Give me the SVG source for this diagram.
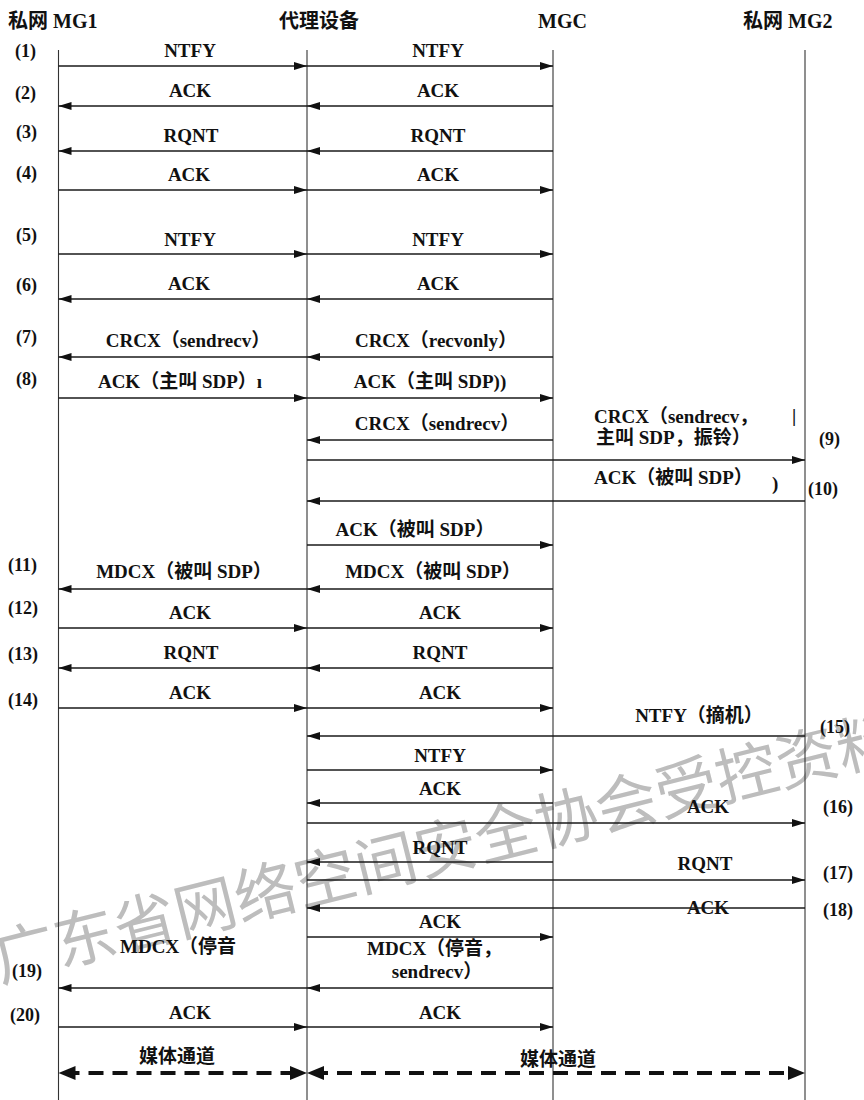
<svg xmlns="http://www.w3.org/2000/svg" width="864" height="1100" viewBox="0 0 864 1100">
<style>
  .t{font-family:'Liberation Serif','Noto Sans CJK SC',serif;font-size:19px;font-weight:bold;fill:#111}
  .c{text-anchor:middle}
  .h{font-size:20px}
  .n{font-size:18px}
  .life{stroke:#333;stroke-width:1.1;fill:none}
  .m{stroke:#1a1a1a;stroke-width:1.4;fill:none;marker-end:url(#ah)}
  .d{stroke:#111;stroke-width:4;stroke-dasharray:15 9;fill:none;marker-start:url(#dh);marker-end:url(#dh)}
  .wm{font-family:'Noto Sans CJK SC',sans-serif;font-size:62px;font-weight:normal;fill:#bdbdbd}
</style>
<defs>
  <marker id="ah" markerUnits="userSpaceOnUse" markerWidth="14" markerHeight="10" refX="13" refY="5" orient="auto">
    <path d="M0,1 L13,5 L0,9 z" fill="#111"/>
  </marker>
  <marker id="dh" markerUnits="userSpaceOnUse" markerWidth="18" markerHeight="14" refX="11" refY="7" orient="auto-start-reverse">
    <path d="M0,0 L17,7 L0,14 z" fill="#111"/>
  </marker>
</defs>
<rect width="864" height="1100" fill="#fff"/>

<text class="wm" transform="translate(0,982) rotate(-14)">广东省网络空间安全协会受控资料</text>

<g id="mg1">
  <text class="t h" x="8" y="28">私网 MG1</text>
  <line class="life" x1="58.5" y1="50" x2="58.5" y2="1100"/>
</g>
<g id="proxy">
  <text class="t h" x="279" y="28">代理设备</text>
  <line class="life" x1="307" y1="50" x2="307" y2="1100"/>
</g>
<g id="mgc">
  <text class="t h" x="538" y="28">MGC</text>
  <line class="life" x1="553" y1="50" x2="553" y2="1100"/>
</g>
<g id="mg2">
  <text class="t h" x="743" y="28">私网 MG2</text>
  <line class="life" x1="805" y1="50" x2="805" y2="1100"/>
</g>

<g id="steps">
  <text class="t n" x="15" y="57">(1)</text>
  <text class="t n" x="15" y="99">(2)</text>
  <text class="t n" x="16" y="138">(3)</text>
  <text class="t n" x="16" y="179">(4)</text>
  <text class="t n" x="16" y="241">(5)</text>
  <text class="t n" x="16" y="291">(6)</text>
  <text class="t n" x="16" y="343">(7)</text>
  <text class="t n" x="16" y="385">(8)</text>
  <text class="t n" x="8" y="571">(11)</text>
  <text class="t n" x="8" y="614">(12)</text>
  <text class="t n" x="8" y="660">(13)</text>
  <text class="t n" x="8" y="706">(14)</text>
  <text class="t n" x="12" y="977">(19)</text>
  <text class="t n" x="10" y="1021">(20)</text>
  <text class="t n" x="819" y="445">(9)</text>
  <text class="t n" x="808" y="495">(10)</text>
  <text class="t n" x="820" y="733">(15)</text>
  <text class="t n" x="823" y="813">(16)</text>
  <text class="t n" x="823" y="879">(17)</text>
  <text class="t n" x="823" y="916">(18)</text>
</g>

<g id="labels">
  <text class="t c" x="190" y="57">NTFY</text>
  <text class="t c" x="438" y="57">NTFY</text>
  <text class="t c" x="190" y="97">ACK</text>
  <text class="t c" x="438" y="97">ACK</text>
  <text class="t c" x="191" y="142">RQNT</text>
  <text class="t c" x="438" y="142">RQNT</text>
  <text class="t c" x="189" y="181">ACK</text>
  <text class="t c" x="438" y="181">ACK</text>
  <text class="t c" x="190" y="246">NTFY</text>
  <text class="t c" x="438" y="246">NTFY</text>
  <text class="t c" x="189" y="290">ACK</text>
  <text class="t c" x="438" y="290">ACK</text>
  <text class="t c" x="188" y="347">CRCX（sendrecv）</text>
  <text class="t c" x="436" y="347">CRCX（recvonly）</text>
  <text class="t c" x="180" y="388">ACK（主叫 SDP）ı</text>
  <text class="t c" x="430" y="388">ACK（主叫 SDP))</text>
  <text class="t c" x="437" y="430">CRCX（sendrecv）</text>
  <text class="t" x="594" y="423">CRCX（sendrecv，</text>
  <text class="t" x="596" y="444">主叫 SDP，振铃）</text>
  <text class="t" x="792" y="422">|</text>
  <text class="t" x="594" y="484">ACK（被叫 SDP）</text>
  <text class="t" x="772" y="490">)</text>
  <text class="t c" x="415" y="536">ACK（被叫 SDP）</text>
  <text class="t c" x="184" y="578">MDCX（被叫 SDP）</text>
  <text class="t c" x="433" y="578">MDCX（被叫 SDP）</text>
  <text class="t c" x="190" y="619">ACK</text>
  <text class="t c" x="440" y="619">ACK</text>
  <text class="t c" x="191" y="659">RQNT</text>
  <text class="t c" x="440" y="659">RQNT</text>
  <text class="t c" x="190" y="699">ACK</text>
  <text class="t c" x="440" y="699">ACK</text>
  <text class="t c" x="699" y="722">NTFY（摘机）</text>
  <text class="t c" x="440" y="762">NTFY</text>
  <text class="t c" x="440" y="795">ACK</text>
  <text class="t c" x="708" y="813">ACK</text>
  <text class="t c" x="440" y="854">RQNT</text>
  <text class="t c" x="705" y="870">RQNT</text>
  <text class="t c" x="708" y="914">ACK</text>
  <text class="t c" x="440" y="928">ACK</text>
  <text class="t" x="120" y="953">MDCX（停音</text>
  <text class="t" x="367" y="955">MDCX（停音，</text>
  <text class="t c" x="437" y="978">sendrecv）</text>
  <text class="t c" x="190" y="1019">ACK</text>
  <text class="t c" x="440" y="1019">ACK</text>
  <text class="t c" x="177" y="1063">媒体通道</text>
  <text class="t c" x="558" y="1066">媒体通道</text>
</g>

<g id="connectors">
  <line class="m" x1="58.5" y1="66" x2="307" y2="66"/>
  <line class="m" x1="307" y1="66" x2="553" y2="66"/>
  <line class="m" x1="553" y1="106" x2="307" y2="106"/>
  <line class="m" x1="307" y1="106" x2="58.5" y2="106"/>
  <line class="m" x1="553" y1="151" x2="307" y2="151"/>
  <line class="m" x1="307" y1="151" x2="58.5" y2="151"/>
  <line class="m" x1="58.5" y1="190" x2="307" y2="190"/>
  <line class="m" x1="307" y1="190" x2="553" y2="190"/>
  <line class="m" x1="58.5" y1="254" x2="307" y2="254"/>
  <line class="m" x1="307" y1="254" x2="553" y2="254"/>
  <line class="m" x1="553" y1="299" x2="307" y2="299"/>
  <line class="m" x1="307" y1="299" x2="58.5" y2="299"/>
  <line class="m" x1="553" y1="357" x2="307" y2="357"/>
  <line class="m" x1="307" y1="357" x2="58.5" y2="357"/>
  <line class="m" x1="58.5" y1="398" x2="307" y2="398"/>
  <line class="m" x1="307" y1="398" x2="553" y2="398"/>
  <line class="m" x1="553" y1="440" x2="307" y2="440"/>
  <line class="m" x1="307" y1="460" x2="805" y2="460"/>
  <line class="m" x1="805" y1="501" x2="307" y2="501"/>
  <line class="m" x1="307" y1="545" x2="553" y2="545"/>
  <line class="m" x1="553" y1="589" x2="307" y2="589"/>
  <line class="m" x1="307" y1="589" x2="58.5" y2="589"/>
  <line class="m" x1="58.5" y1="628" x2="307" y2="628"/>
  <line class="m" x1="307" y1="628" x2="553" y2="628"/>
  <line class="m" x1="553" y1="668" x2="307" y2="668"/>
  <line class="m" x1="307" y1="668" x2="58.5" y2="668"/>
  <line class="m" x1="58.5" y1="708" x2="307" y2="708"/>
  <line class="m" x1="307" y1="708" x2="553" y2="708"/>
  <line class="m" x1="805" y1="736" x2="307" y2="736"/>
  <line class="m" x1="307" y1="770" x2="553" y2="770"/>
  <line class="m" x1="553" y1="803" x2="307" y2="803"/>
  <line class="m" x1="307" y1="823" x2="805" y2="823"/>
  <line class="m" x1="553" y1="862" x2="307" y2="862"/>
  <line class="m" x1="307" y1="880" x2="805" y2="880"/>
  <line class="m" x1="805" y1="908" x2="307" y2="908"/>
  <line class="m" x1="307" y1="937" x2="553" y2="937"/>
  <line class="m" x1="553" y1="988" x2="307" y2="988"/>
  <line class="m" x1="307" y1="988" x2="58.5" y2="988"/>
  <line class="m" x1="58.5" y1="1027" x2="307" y2="1027"/>
  <line class="m" x1="307" y1="1027" x2="553" y2="1027"/>
  <line class="d" x1="64.5" y1="1073" x2="301" y2="1073"/>
  <line class="d" x1="313" y1="1073" x2="799" y2="1073"/>
</g>
</svg>
